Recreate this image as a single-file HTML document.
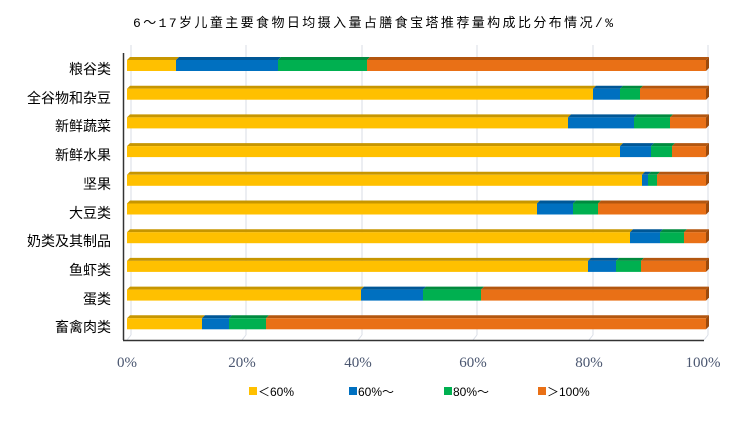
<!DOCTYPE html><html><head><meta charset="utf-8"><style>body{margin:0;background:#fff}</style></head><body>
<svg width="747" height="417" xmlns="http://www.w3.org/2000/svg" font-family="Liberation Serif, Noto Serif CJK SC, serif">
<text x="373" y="27" font-size="13" text-anchor="middle" fill="#000" textLength="480" font-family="Liberation Mono, Noto Sans CJK SC, sans-serif">6～17岁儿童主要食物日均摄入量占膳食宝塔推荐量构成比分布情况/%</text>
<g stroke="#d9dde6" stroke-width="1">
<line x1="131" y1="45" x2="131" y2="335"/><line x1="246" y1="45" x2="246" y2="335"/><line x1="362" y1="45" x2="362" y2="335"/><line x1="477" y1="45" x2="477" y2="335"/><line x1="593" y1="45" x2="593" y2="335"/><line x1="708" y1="45" x2="708" y2="335"/>
<line x1="127" y1="340" x2="131" y2="335"/><line x1="242" y1="340" x2="246" y2="335"/><line x1="358" y1="340" x2="362" y2="335"/><line x1="473" y1="340" x2="477" y2="335"/><line x1="589" y1="340" x2="593" y2="335"/><line x1="704" y1="340" x2="708" y2="335"/>
</g>
<line x1="123.5" y1="53" x2="123.5" y2="340" stroke="#333" stroke-width="1.5"/>
<line x1="123" y1="340.5" x2="704" y2="340.5" stroke="#333" stroke-width="1.5"/>
<g id="bars"></g>
<g font-size="14" fill="#000" text-anchor="end" font-family="Liberation Sans, Noto Sans CJK SC, sans-serif">
<text x="111" y="74">粮谷类</text><text x="111" y="103">全谷物和杂豆</text><text x="111" y="131">新鲜蔬菜</text><text x="111" y="160">新鲜水果</text><text x="111" y="189">坚果</text><text x="111" y="218">大豆类</text><text x="111" y="246">奶类及其制品</text><text x="111" y="275">鱼虾类</text><text x="111" y="304">蛋类</text><text x="111" y="332">畜禽肉类</text>
</g>
<g font-size="15" fill="#4a5670" text-anchor="middle">
<text x="127" y="367">0%</text><text x="242" y="367">20%</text><text x="358" y="367">40%</text><text x="473" y="367">60%</text><text x="589" y="367">80%</text><text x="703" y="367">100%</text>
</g>
<g font-size="12" fill="#000" font-family="Liberation Sans, Noto Sans CJK SC, sans-serif">
<rect x="249" y="387" width="8" height="8" fill="#ffc000"/><text x="258" y="396">＜60%</text>
<rect x="349" y="387" width="8" height="8" fill="#0070c0"/><text x="358" y="396">60%～</text>
<rect x="444" y="387" width="8" height="8" fill="#00b050"/><text x="453" y="396">80%～</text>
<rect x="538" y="387" width="8" height="8" fill="#e97016"/><text x="547" y="396">＞100%</text>
</g>
</svg>
<script>
var d=[[176,278,367],[593,620,640],[568,634,670],[620,651,672],[642,648,657],[537,573,598],[630,660,684],[588,616,641],[361,423,481],[202,229,266]];
var c=["#ffc000","#0070c0","#00b050","#e97016"],t=["#c79600","#005796","#008a3e","#b3560f"];
var g=document.getElementById("bars"),h="";
d.forEach(function(r,i){var y=60+i*28.7,xs=[127].concat(r,[706]);
for(var k=0;k<4;k++){var a=xs[k],b=xs[k+1];
h+='<polygon points="'+a+','+y+' '+(a+3)+','+(y-3)+' '+(b+3)+','+(y-3)+' '+b+','+y+'" fill="'+t[k]+'"/>';
h+='<rect x="'+a+'" y="'+y+'" width="'+(b-a)+'" height="11" fill="'+c[k]+'"/>';}
h+='<polygon points="706,'+y+' 709,'+(y-3)+' 709,'+(y+8)+' 706,'+(y+11)+'" fill="#9c4a0c"/>';});
g.innerHTML=h;
</script>
</body></html>
